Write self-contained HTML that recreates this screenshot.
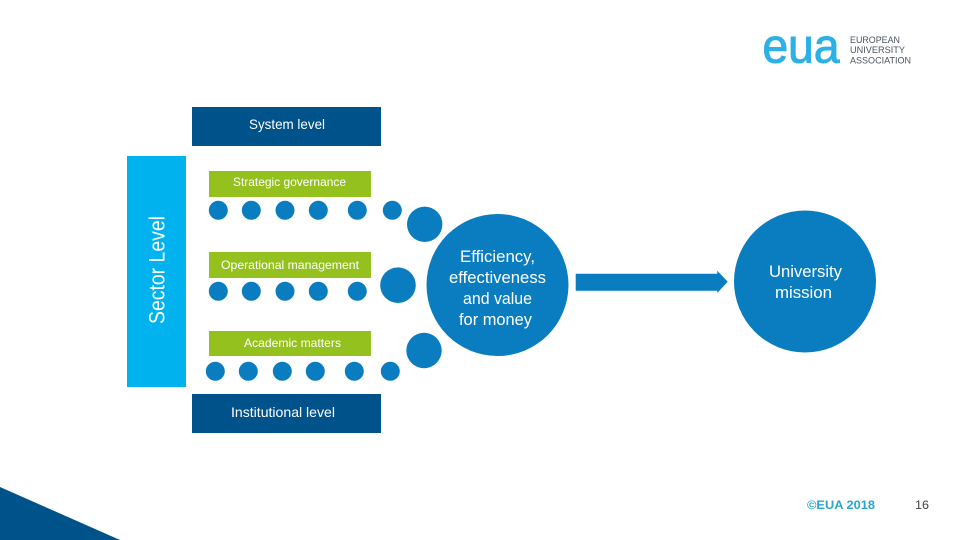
<!DOCTYPE html>
<html lang="en">
<head>
<meta charset="utf-8">
<title>EUA diagram</title>
<style>
html,body{margin:0;padding:0;background:#fff;width:960px;height:540px;overflow:hidden}
svg{display:block}
text{font-family:"Liberation Sans",sans-serif;fill:#fff}
</style>
</head>
<body>
<svg width="960" height="540" viewBox="0 0 960 540" xmlns="http://www.w3.org/2000/svg">
  <polygon points="0,487 120,540 0,540" fill="#00528a"/>

  <text x="762.5" y="62.5" font-size="48" textLength="77" lengthAdjust="spacingAndGlyphs" style="fill:#2cb0e6;stroke:#2cb0e6;stroke-width:1">eua</text>
  <g font-size="9.5">
    <text x="850" y="43" textLength="50" lengthAdjust="spacingAndGlyphs" style="fill:#4a5560">EUROPEAN</text>
    <text x="850" y="53" textLength="55" lengthAdjust="spacingAndGlyphs" style="fill:#4a5560">UNIVERSITY</text>
    <text x="850" y="63.5" textLength="61" lengthAdjust="spacingAndGlyphs" style="fill:#4a5560">ASSOCIATION</text>
  </g>

  <rect x="192" y="107" width="189" height="39" fill="#00528a"/>
  <rect x="192" y="394" width="189" height="39" fill="#00528a"/>
  <rect x="127" y="156" width="59" height="231" fill="#00b3ee"/>
  <rect x="209" y="171" width="162" height="26" fill="#95c11f"/>
  <rect x="209" y="252" width="162" height="26" fill="#95c11f"/>
  <rect x="209" y="331" width="162" height="25" fill="#95c11f"/>

  <g fill="#0a7dc0">
    <circle cx="218.3" cy="210.3" r="9.5"/><circle cx="251.3" cy="210.3" r="9.5"/><circle cx="285" cy="210.3" r="9.5"/><circle cx="318.3" cy="210.3" r="9.5"/><circle cx="357.3" cy="210.3" r="9.5"/><circle cx="392.3" cy="210.3" r="9.5"/>
    <circle cx="218.3" cy="291.3" r="9.5"/><circle cx="251.3" cy="291.3" r="9.5"/><circle cx="285" cy="291.3" r="9.5"/><circle cx="318.3" cy="291.3" r="9.5"/><circle cx="357.3" cy="291.3" r="9.5"/>
    <circle cx="215.3" cy="371.3" r="9.5"/><circle cx="248.3" cy="371.3" r="9.5"/><circle cx="282.3" cy="371.3" r="9.5"/><circle cx="315.3" cy="371.3" r="9.5"/><circle cx="354.3" cy="371.3" r="9.5"/><circle cx="390.3" cy="371.3" r="9.5"/>
    <circle cx="424.7" cy="224.3" r="17.7"/>
    <circle cx="398" cy="285.2" r="17.8"/>
    <circle cx="424" cy="350.5" r="17.7"/>
    <circle cx="497.5" cy="285" r="71"/>
    <circle cx="805" cy="281.5" r="71"/>
    <polygon points="575.7,273.7 717.3,273.7 717.3,270.7 727.7,281.8 717.3,293 717.3,290.7 575.7,290.7"/>
  </g>

  <text x="249" y="129" font-size="14" textLength="76" lengthAdjust="spacingAndGlyphs">System level</text>
  <text x="231" y="417" font-size="14" textLength="104" lengthAdjust="spacingAndGlyphs">Institutional level</text>
  <text x="233" y="186" font-size="12" textLength="113" lengthAdjust="spacingAndGlyphs">Strategic governance</text>
  <text x="221" y="269" font-size="12" textLength="138" lengthAdjust="spacingAndGlyphs">Operational management</text>
  <text x="244" y="347" font-size="12" textLength="97" lengthAdjust="spacingAndGlyphs">Academic matters</text>
  <text transform="translate(164.5,324) rotate(-90)" font-size="22" textLength="108" lengthAdjust="spacingAndGlyphs">Sector Level</text>

  <g font-size="16.5">
    <text x="460" y="262" textLength="75" lengthAdjust="spacingAndGlyphs">Efficiency,</text>
    <text x="449" y="283" textLength="97" lengthAdjust="spacingAndGlyphs">effectiveness</text>
    <text x="463" y="304" textLength="69" lengthAdjust="spacingAndGlyphs">and value</text>
    <text x="459" y="325" textLength="73" lengthAdjust="spacingAndGlyphs">for money</text>
    <text x="769" y="277" textLength="73" lengthAdjust="spacingAndGlyphs">University</text>
    <text x="775" y="298" textLength="57" lengthAdjust="spacingAndGlyphs">mission</text>
  </g>

  <text x="807" y="509" font-size="12" font-weight="bold" textLength="68" lengthAdjust="spacingAndGlyphs" style="fill:#2aa5cf">©EUA 2018</text>
  <text x="915" y="509" font-size="12" textLength="14" lengthAdjust="spacingAndGlyphs" style="fill:#444">16</text>
</svg>
</body>
</html>
